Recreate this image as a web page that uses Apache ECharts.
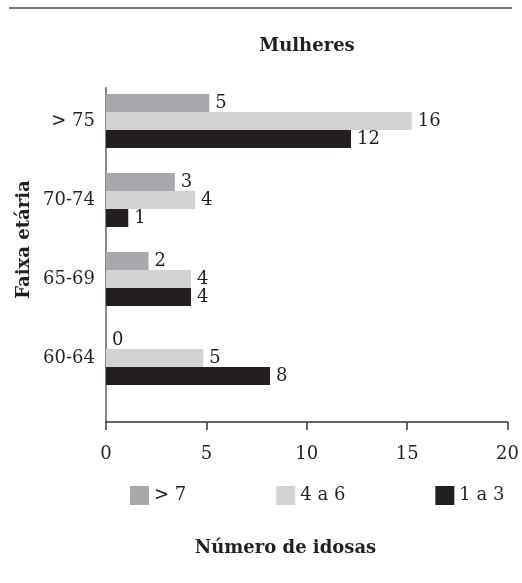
<!DOCTYPE html>
<html>
<head>
<meta charset="utf-8">
<script src="https://cdn.jsdelivr.net/npm/echarts@6/dist/echarts.min.js"></script>
<style>
html,body{margin:0;padding:0;background:#fff;}
#chart{width:522px;height:583px;}
</style>
</head>
<body>
<div id="chart"></div>
<script>
var categories = ['> 75', '70-74', '65-69', '60-64'];
var seriesNames = ['> 7', '4 a 6', '1 a 3'];
// bar lengths as drawn
var valuesOver7 = [5.1, 3.4, 2.1, 0];
var values4to6 = [15.1, 4.4, 4.2, 4.8];
var values1to3 = [12.1, 1.1, 4.2, 8.1];
// numbers printed next to the bars
var labelsOver7 = [5, 3, 2, 0];
var labels4to6 = [16, 4, 4, 5];
var labels1to3 = [12, 1, 4, 8];
var xTicks = [0, 5, 10, 15, 20];

var FONT = '"DejaVu Serif", "Liberation Serif", serif';
var TXT = '#231f20';
var colors = ['#a7a8ab', '#d1d2d4', '#231f20'];

function mkSeries(name, vals, labs, color) {
  return {
    name: name,
    type: 'bar',
    xAxisIndex: 0,
    yAxisIndex: 0,
    data: vals,
    barWidth: 18,
    barGap: '0%',
    itemStyle: { color: color },
    label: {
      show: true,
      position: 'right',
      distance: 6,
      fontFamily: FONT,
      fontSize: 18,
      color: TXT,
      formatter: function (p) { return String(labs[p.dataIndex]); }
    },
    emphasis: { disabled: true },
    animation: false
  };
}

var chart = echarts.init(document.getElementById('chart'), null, { renderer: 'canvas' });
chart.setOption({
  backgroundColor: '#ffffff',
  animation: false,
  title: [
    {
      text: 'Mulheres', left: 307, top: 37, textAlign: 'center', padding: 0,
      textStyle: { fontFamily: FONT, fontSize: 18, fontWeight: 'bold', color: TXT }
    },
    {
      text: 'Número de idosas', left: 285.5, top: 539, textAlign: 'center', padding: 0,
      textStyle: { fontFamily: FONT, fontSize: 18, fontWeight: 'bold', color: TXT }
    }
  ],
  legend: {
    data: seriesNames,
    left: 130, top: 486,
    itemWidth: 19, itemHeight: 19, itemGap: 90,
    icon: 'rect', padding: 0,
    selectedMode: false,
    textStyle: { fontFamily: FONT, fontSize: 18, color: TXT }
  },
  graphic: [
    { type: 'line', shape: { x1: 9, y1: 8, x2: 512, y2: 8 }, style: { stroke: '#777', lineWidth: 2 }, silent: true }
  ],
  grid: [
    { left: 106, right: 11, top: 81.5, height: 316, containLabel: false },
    { left: 106, right: 11, top: 88, bottom: 161, containLabel: false }
  ],
  xAxis: [
    { gridIndex: 0, type: 'value', min: 0, max: 20, interval: 5, show: false },
    {
      gridIndex: 1, type: 'value', min: xTicks[0], max: xTicks[xTicks.length - 1], interval: 5,
      axisLine: { show: true, lineStyle: { color: '#333', width: 1.5 } },
      axisTick: { show: true, length: 8, lineStyle: { color: '#333', width: 1.5 } },
      axisLabel: { margin: 23, fontFamily: FONT, fontSize: 18, color: TXT },
      splitLine: { show: false }
    }
  ],
  yAxis: [
    {
      gridIndex: 0, type: 'category', data: categories, inverse: true,
      axisLine: { show: false }, axisTick: { show: false },
      axisLabel: { margin: 11, fontFamily: FONT, fontSize: 18, color: TXT },
      name: 'Faixa etária', nameLocation: 'middle', nameGap: 73, nameMoveOverlap: false,
      nameTextStyle: { fontFamily: FONT, fontSize: 18, fontWeight: 'bold', color: TXT }
    },
    {
      gridIndex: 1, type: 'value', min: 0, max: 1,
      axisLine: { show: true, onZero: false, lineStyle: { color: '#888', width: 2 } },
      axisTick: { show: false }, axisLabel: { show: false }, splitLine: { show: false }
    }
  ],
  series: [
    mkSeries(seriesNames[0], valuesOver7, labelsOver7, colors[0]),
    mkSeries(seriesNames[1], values4to6, labels4to6, colors[1]),
    mkSeries(seriesNames[2], values1to3, labels1to3, colors[2])
  ]
});
</script>
</body>
</html>
